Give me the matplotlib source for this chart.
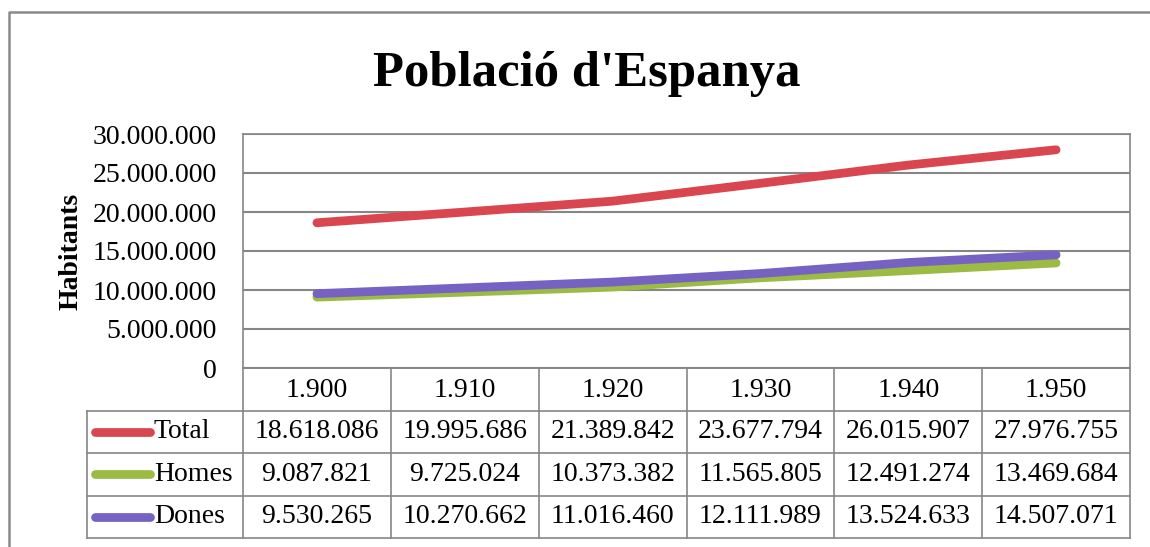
import numpy as np
import matplotlib.pyplot as plt
from matplotlib.lines import Line2D

# Chart data
years = ['1.900', '1.910', '1.920', '1.930', '1.940', '1.950']
total = [18618086, 19995686, 21389842, 23677794, 26015907, 27976755]
homes = [9087821, 9725024, 10373382, 11565805, 12491274, 13469684]
dones = [9530265, 10270662, 11016460, 12111989, 13524633, 14507071]
series_names = ['Total', 'Homes', 'Dones']
series_colors = ['#d9464f', '#9cbb45', '#7662c2']
y_ticks = [0, 5000000, 10000000, 15000000, 20000000, 25000000, 30000000]

plt.rcParams['font.family'] = ['Liberation Serif', 'DejaVu Serif']
GRID = '#868686'
W, H = 1150, 547
FS = 20


def fmt(v):
    """Format number with dots as thousand separators"""
    return f'{v:,.0f}'.replace(',', '.')


fig = plt.figure(figsize=(W / 100, H / 100), dpi=100)

# Outer chart border (only top and left edges are visible)
fig.lines.append(Line2D([9 / W, 9 / W, 1.0], [0.0, 1 - 12 / H, 1 - 12 / H],
                        transform=fig.transFigure, color='#8a8a8a', lw=1.8))

# Main plot area
ax = fig.add_axes([243 / W, 1 - 368 / H, 887 / W, 234 / H])
x = np.arange(len(years))
for vals, col in zip([total, homes, dones], series_colors):
    ax.plot(x, vals, color=col, lw=6.3, solid_capstyle='round', zorder=3)

ax.set_xlim(-0.5, len(years) - 0.5)
ax.set_ylim(0, 30000000)
ax.set_yticks(y_ticks)
ax.set_yticklabels([fmt(t) for t in y_ticks], fontsize=FS)
ax.set_xticks([])
ax.tick_params(axis='y', length=0, pad=19)
ax.grid(axis='y', color=GRID, lw=1.5)
for s in ax.spines.values():
    s.set_color(GRID)
    s.set_linewidth(1.2)
ax.set_ylabel('Habitants', fontsize=20, fontweight='bold')
ax.yaxis.set_label_coords((84 - 243) / 887, 0.5)

fig.text(587 / W, 1 - 74 / H, "Població d'Espanya", fontsize=36.5,
         fontweight='bold', ha='center', va='center')

# Data table below the plot, sharing the x scale
px = 887 / 6
left_units = (243 - 87) / px
tax = fig.add_axes([87 / W, 1 - 538 / H, 1043 / W, 170 / H])
tax.set_xlim(-0.5 - left_units, len(years) - 0.5)
tax.set_ylim(0, 4)
tax.axis('off')
x0 = -0.5 - left_units
xe = len(years) - 0.5

for yy in [0, 1, 2, 3]:
    tax.plot([x0, xe], [yy, yy], color=GRID, lw=1.2, clip_on=False)
tax.plot([-0.5, xe], [4, 4], color=GRID, lw=1.2, clip_on=False)
tax.plot([x0, x0], [0, 3], color=GRID, lw=1.2, clip_on=False)
for i in range(len(years) + 1):
    tax.plot([i - 0.5, i - 0.5], [0, 4], color=GRID, lw=1.2, clip_on=False)

for i, yr in enumerate(years):
    tax.text(i, 3.48, yr, fontsize=FS, ha='center', va='center')

for r, (name, col, vals) in enumerate(zip(series_names, series_colors,
                                          [total, homes, dones])):
    yc = 2.5 - r
    tax.plot([x0 + 8 / px, x0 + 63 / px], [yc, yc], color=col, lw=6.3,
             solid_capstyle='round', clip_on=False)
    tax.text(x0 + 67 / px, yc, name, fontsize=FS, ha='left', va='center')
    for i, v in enumerate(vals):
        tax.text(i, yc, fmt(v), fontsize=FS, ha='center', va='center')

fig.savefig('out.png', dpi=100)
